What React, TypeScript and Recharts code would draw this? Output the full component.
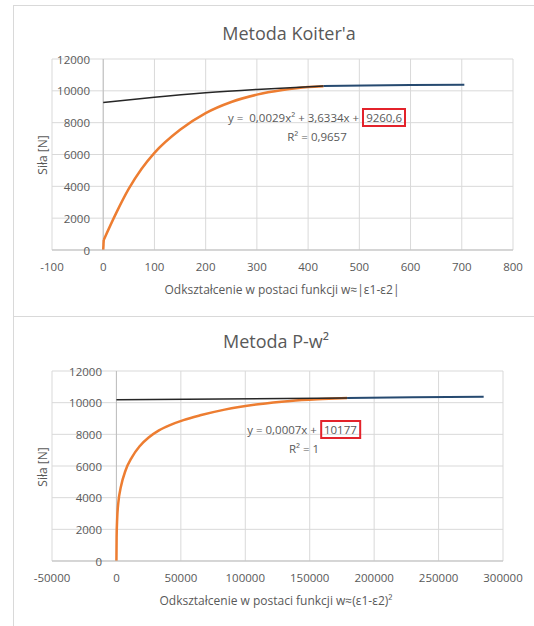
import React from 'react'
import { LineChart, Line, XAxis, YAxis, CartesianGrid, ReferenceLine } from 'recharts'

// Metoda Koiter'a – measured curve (vertical start + smooth part), its flat tail and the fitted trend
const koiterStartX = [0, 1]
const koiterStartY = [0, 630]
const koiterX = [1, 25, 50, 75, 100, 150, 200, 250, 300, 350, 400, 430]
const koiterY = [630, 2300, 3850, 5100, 6100, 7550, 8600, 9300, 9760, 10050, 10240, 10290]
const koiterTailX = [430, 510, 600, 705]
const koiterTailY = [10300, 10335, 10365, 10385]
const koiterTrendX = [0, 100, 200, 300, 430]
const koiterTrendY = [9260, 9600, 9880, 10090, 10300]
const koiterXTicks = [-100, 0, 100, 200, 300, 400, 500, 600, 700, 800]

// Metoda P-w²
const pw2X = [0, 150, 600, 1500, 3500, 7000, 12000, 18000, 25000, 33000, 42000, 52000, 65000, 84000, 110000, 135000, 160000, 179000]
const pw2Y = [0, 1500, 2700, 3700, 4700, 5700, 6550, 7250, 7800, 8250, 8600, 8900, 9200, 9560, 9900, 10110, 10230, 10300]
const pw2TailX = [179000, 230000, 285000]
const pw2TailY = [10300, 10335, 10370]
const pw2TrendX = [0, 179000]
const pw2TrendY = [10177, 10302]
const pw2XTicks = [-50000, 0, 50000, 100000, 150000, 200000, 250000, 300000]

const forceTicks = [0, 2000, 4000, 6000, 8000, 10000, 12000]

const zip = (xs: number[], ys: number[]) => xs.map((x, i) => ({ x, y: ys[i] }))

const FONT = '"Open Sans", sans-serif'
const TEXT = '#595959'
const GRID = '#d9d9d9'
const AXIS = '#bfbfbf'
const ORANGE = '#ed7d31'
const NAVY = '#264a70'
const TREND = '#262626'

function yTick(shift: number) {
  return (props: any) => (
    <text
      x={props.x + shift}
      y={props.y}
      textAnchor="end"
      dominantBaseline="central"
      fontSize={11.5}
      fontFamily={FONT}
      fill={TEXT}
    >
      {props.payload.value}
    </text>
  )
}

function Centered({ x, y, size, children }: { x: number; y: number; size: number; children: React.ReactNode }) {
  return (
    <div
      style={{
        position: 'absolute',
        left: x,
        top: y,
        transform: 'translate(-50%, -50%)',
        fontSize: size,
        whiteSpace: 'pre',
        lineHeight: 1,
      }}
    >
      {children}
    </div>
  )
}

function YTitle({ x, y }: { x: number; y: number }) {
  return (
    <div
      style={{
        position: 'absolute',
        left: x,
        top: y,
        transform: 'translate(-50%, -50%) rotate(-90deg)',
        fontSize: 12,
        whiteSpace: 'nowrap',
        lineHeight: 1,
      }}
    >
      Siła [N]
    </div>
  )
}

const redBox: React.CSSProperties = {
  display: 'inline-block',
  border: '2.5px solid #e3232b',
  padding: '1px 2px',
  lineHeight: '13px',
}

export default function App() {
  return (
    <div
      style={{
        position: 'absolute',
        left: 0,
        top: 0,
        width: 534,
        height: 626,
        background: '#fff',
        overflow: 'hidden',
        fontFamily: FONT,
        color: TEXT,
      }}
    >
      <div style={{ position: 'absolute', left: 13, top: 5, width: 600, height: 311, borderLeft: `1px solid ${GRID}`, borderTop: `1px solid ${GRID}` }} />
      <div style={{ position: 'absolute', left: 13, top: 316, width: 600, height: 400, borderLeft: `1px solid ${GRID}`, borderTop: `1px solid ${GRID}` }} />

      {/* Koiter */}
      <div style={{ position: 'absolute', left: 0, top: 0 }}>
        <LineChart width={534} height={316} margin={{ top: 59, right: 21, bottom: 36, left: 0 }}>
          <CartesianGrid stroke={GRID} />
          <XAxis
            type="number"
            dataKey="x"
            domain={[-100, 800]}
            ticks={koiterXTicks}
            interval={0}
            height={30}
            tickLine={false}
            tickSize={0}
            tickMargin={13}
            axisLine={{ stroke: AXIS }}
            tick={{ fontSize: 11.5, fill: TEXT, fontFamily: FONT }}
          />
          <YAxis
            type="number"
            dataKey="y"
            domain={[0, 12000]}
            ticks={forceTicks}
            interval={0}
            width={52}
            tickLine={false}
            axisLine={false}
            tickSize={0}
            tickMargin={0}
            tick={yTick(38)}
          />
          <ReferenceLine x={0} stroke={AXIS} />
          <Line data={zip(koiterStartX, koiterStartY)} dataKey="y" type="linear" stroke={ORANGE} strokeWidth={2.5} dot={false} isAnimationActive={false} />
          <Line data={zip(koiterX, koiterY)} dataKey="y" type="monotone" stroke={ORANGE} strokeWidth={2.5} dot={false} isAnimationActive={false} />
          <Line data={zip(koiterTailX, koiterTailY)} dataKey="y" type="linear" stroke={NAVY} strokeWidth={2} dot={false} isAnimationActive={false} />
          <Line data={zip(koiterTrendX, koiterTrendY)} dataKey="y" type="monotone" stroke={TREND} strokeWidth={1.5} dot={false} isAnimationActive={false} />
        </LineChart>
      </div>
      <Centered x={289} y={33} size={18}>Metoda Koiter'a</Centered>
      <YTitle x={43} y={155} />
      <Centered x={282} y={290} size={12}>Odkształcenie w postaci funkcji w≈|ε1-ε2|</Centered>
      <div style={{ position: 'absolute', left: 317, top: 108, transform: 'translateX(-50%)', textAlign: 'center', fontSize: 11.5, lineHeight: '19px', whiteSpace: 'pre' }}>
        <div>y =  0,0029x² + 3,6334x + <span style={redBox}>9260,6</span></div>
        <div>R² = 0,9657</div>
      </div>

      {/* P-w² */}
      <div style={{ position: 'absolute', left: 0, top: 316 }}>
        <LineChart width={534} height={310} margin={{ top: 55, right: 31, bottom: 35, left: 0 }}>
          <CartesianGrid stroke={GRID} />
          <XAxis
            type="number"
            dataKey="x"
            domain={[-50000, 300000]}
            ticks={pw2XTicks}
            interval={0}
            height={30}
            tickLine={false}
            tickSize={0}
            tickMargin={13}
            axisLine={{ stroke: AXIS }}
            tick={{ fontSize: 11.5, fill: TEXT, fontFamily: FONT }}
          />
          <YAxis
            type="number"
            dataKey="y"
            domain={[0, 12000]}
            ticks={forceTicks}
            interval={0}
            width={52}
            tickLine={false}
            axisLine={false}
            tickSize={0}
            tickMargin={0}
            tick={yTick(50)}
          />
          <ReferenceLine x={0} stroke={AXIS} />
          <Line data={zip(pw2X, pw2Y)} dataKey="y" type="monotone" stroke={ORANGE} strokeWidth={2.5} dot={false} isAnimationActive={false} />
          <Line data={zip(pw2TailX, pw2TailY)} dataKey="y" type="linear" stroke={NAVY} strokeWidth={2} dot={false} isAnimationActive={false} />
          <Line data={zip(pw2TrendX, pw2TrendY)} dataKey="y" type="linear" stroke={TREND} strokeWidth={1.5} dot={false} isAnimationActive={false} />
        </LineChart>
      </div>
      <Centered x={276} y={341} size={18}>Metoda P-w²</Centered>
      <YTitle x={43} y={467} />
      <Centered x={276} y={601} size={12}>Odkształcenie w postaci funkcji w≈(ε1-ε2)²</Centered>
      <div style={{ position: 'absolute', left: 304, top: 420, transform: 'translateX(-50%)', textAlign: 'center', fontSize: 11.5, lineHeight: '19px', whiteSpace: 'pre' }}>
        <div>y = 0,0007x + <span style={redBox}>10177</span></div>
        <div>R² = 1</div>
      </div>
    </div>
  )
}
